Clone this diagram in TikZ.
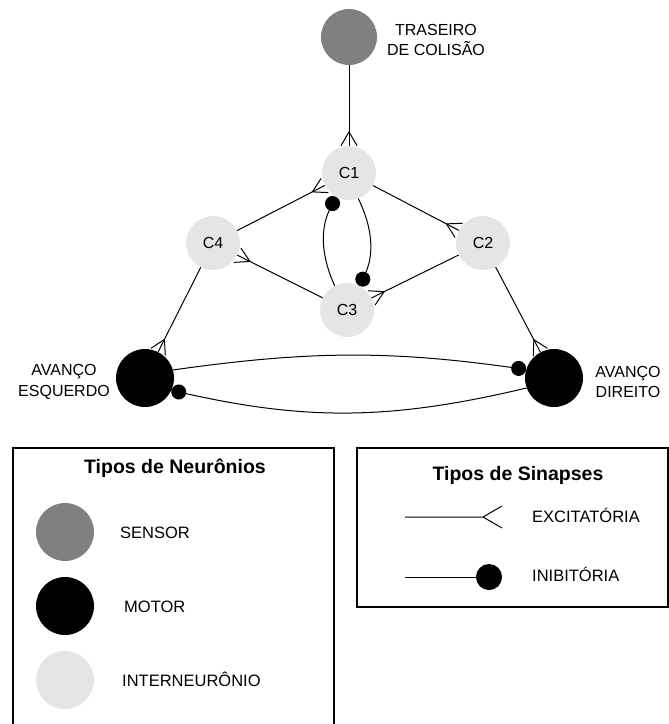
\documentclass[tikz,border=0pt]{standalone}
\usepackage{fontspec}
\setmainfont{Liberation Sans}
\usetikzlibrary{arrows.meta,decorations.markings}
\definecolor{sensorgray}{gray}{0.5}
\definecolor{intergray}{gray}{0.9}
\begin{document}
\begin{tikzpicture}[x=1pt,y=1pt,
  neuron/.style={circle,inner sep=0pt,draw=none},
  sens/.style={neuron,fill=sensorgray,minimum size=56pt},
  inter/.style={neuron,fill=intergray,minimum size=54pt,font=\fontsize{16}{19}\selectfont},
  mot/.style={neuron,fill=black,minimum size=58pt},
  lbl/.style={align=center,inner sep=0pt,font=\fontsize{16}{20.5}\selectfont},
  conn/.style={line width=1pt},
  exc/.style={conn,postaction={decorate,decoration={markings,mark=at position 1 with {\draw[conn] (-14pt,0pt) -- (0pt,8pt) (-14pt,0pt) -- (0pt,-8pt);}}}},
  inh/.style={conn,-{Circle[length=15pt]}},
  legtxt/.style={anchor=base west,inner sep=0pt,font=\fontsize{16.5}{20}\selectfont},
  legtitle/.style={anchor=base,inner sep=0pt,font=\bfseries\fontsize{19.5}{22}\selectfont},
  legbox/.style={line width=2pt}
]
\useasboundingbox (0,0) rectangle (669,-724);
\clip (0,0) rectangle (669,-724);

% neurons
\node[sens] (S) at (349,-37) {};
\node[lbl] (Slbl) at (436,-40) {TRASEIRO\\DE COLISÃO};
\node[inter] (C1) at (349,-173) {C1};
\node[inter] (C2) at (483,-243) {C2};
\node[inter] (C3) at (347,-310) {C3};
\node[inter] (C4) at (213,-243) {C4};
\node[mot] (LM) at (145,-378) {};
\node[mot] (RM) at (554,-378) {};
\node[lbl] (LMlbl) at (64,-382) {AVANÇO\\ESQUERDO};
\node[lbl] (RMlbl) at (628,-382) {AVANÇO\\DIREITO};

% excitatory synapses
\draw[exc] (S) -- (C1);
\draw[exc] (C4) -- (C1);
\draw[exc] (C1) -- (C2);
\draw[exc] (C2) -- (C3);
\draw[exc] (C3) -- (C4);
\draw[exc] (C4) -- (LM);
\draw[exc] (C2) -- (RM);

% inhibitory synapses
\draw[inh] (C3.117) to[bend left=25] (C1.241);
\draw[inh] (C1.290) to[bend left=25] (C3.62);
\draw[inh] (LM.16) to[bend left=8] (RM.163);
\draw[inh] (RM.200) to[bend left=13] (LM.335);

% legends
\draw[legbox] (13,-448) rectangle (334,-740);
\draw[legbox] (357,-448) rectangle (668,-607);
\node[legtitle] (T1) at (175,-473) {Tipos de Neurônios};
\node[legtitle] (T2) at (518,-480) {Tipos de Sinapses};

\node[sens,minimum size=58pt] (LS) at (65,-532) {};
\node[mot] (LMo) at (65,-606) {};
\node[inter,minimum size=58pt] (LI) at (65,-680) {};
\node[legtxt] (tS) at (120,-538) {SENSOR};
\node[legtxt] (tM) at (124,-612) {MOTOR};
\node[legtxt] (tI) at (122,-686) {INTERNEURÔNIO};

\coordinate (ea) at (405,-517);
\coordinate (eb) at (483,-517);
\draw[conn] (ea) -- (eb) -- ++(19,11) (eb) -- ++(19,-11);
\node[legtxt] (tE) at (532,-522) {EXCITATÓRIA};
\coordinate (ia) at (405,-577);
\coordinate (ib) at (502,-577);
\draw[conn,-{Circle[length=26pt]}] (ia) -- (ib);
\node[legtxt] (tN) at (532,-581) {INIBITÓRIA};
\end{tikzpicture}
\end{document}
